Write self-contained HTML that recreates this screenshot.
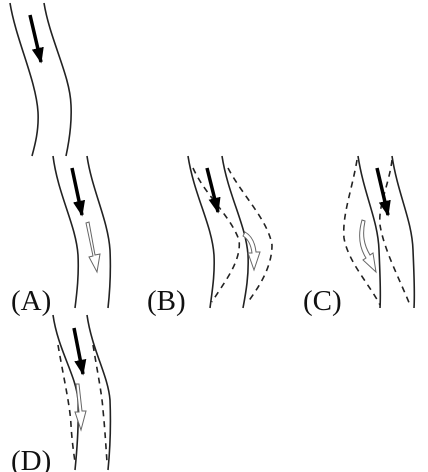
<!DOCTYPE html>
<html><head><meta charset="utf-8"><style>
html,body{margin:0;padding:0;background:#fff;width:428px;height:472px;overflow:hidden}
svg text{font-family:"Liberation Serif",serif;font-size:29px;fill:#111}
</style></head><body>
<svg width="428" height="472" viewBox="0 0 428 472">
<defs>
<marker id="bh" viewBox="0 0 10 10" refX="9" refY="5" markerWidth="4.5" markerHeight="3.5" orient="auto" preserveAspectRatio="none"><path d="M0,0 L10,5 L0,10Z" fill="#000"/></marker>
</defs>
<g fill="none" stroke="#222" stroke-width="1.6">
<g>
<path d="M10,3 C16,40 36,80 38,112 C39,130 35,145 32,156"/>
<path d="M44,3 C50,40 70,75 71,105 C72,125 69,142 66,156"/>
</g>
<g>
<path d="M53,156 C58,195 76,225 78,255 C79,275 77,292 75,308"/>
<path d="M87,156 C92,190 108,220 110,250 C111,272 110,290 108,308"/>
</g>
<g>
<path d="M188,156 C194,195 212,225 214,255 C215,275 212,292 210,308"/>
<path d="M222,156 C228,195 246,225 248,255 C249,275 246,292 243,308"/>
<g stroke-dasharray="6,5">
<path d="M193,168 C205,195 230,215 239,240 C242,262 222,285 212,302"/>
<path d="M228,168 C242,195 268,220 272,245 C272,268 258,288 248,302"/>
</g>
</g>
<g>
<path d="M358,156 C364,195 378,220 379,250 C380,275 381,292 380,308"/>
<path d="M392,156 C398,195 412,220 413,250 C414,275 415,292 414,308"/>
<g stroke-dasharray="6,5">
<path d="M357,160 C352,190 342,215 344,238 C348,262 370,285 380,305"/>
<path d="M392,160 C389,185 378,205 380,225 C384,250 400,280 410,305"/>
</g>
</g>
<g>
<path d="M53,315 C58,350 76,375 78,400 C79,425 77,450 75,470"/>
<path d="M87,315 C92,350 108,375 110,400 C111,425 110,450 108,470"/>
<g stroke-dasharray="6,5">
<path d="M58,345 C64,380 70,405 71,425 C72,442 74,455 75,462"/>
<path d="M93,345 C98,375 102,395 103,410 C105,430 106,448 107,462"/>
</g>
</g>
</g>
<g stroke="#000" stroke-width="3.5" marker-end="url(#bh)">
<line x1="30" y1="15" x2="41" y2="62"/>
<line x1="72" y1="168" x2="82" y2="215"/>
<line x1="207" y1="168" x2="218" y2="212"/>
<line x1="377" y1="168" x2="388" y2="215"/>
<line x1="74" y1="328" x2="83" y2="374"/>
</g>
<g fill="#fff" stroke="#666" stroke-width="1">
<path d="M86,223 L89,222 L95,255 L100,254 L97,272 L89,257 L93,256 Z"/>
<path d="M245,232 C252,236 255,243 256,252 L260,252 L254,270 L248,253 L252,253 C251,245 248,239 243,236 Z"/>
<path d="M362,220 L365,221 C362,235 364,245 370,255 L373,253 L376,272 L363,260 L366,258 C359,247 358,234 362,220 Z"/>
<path d="M76,384 L79,384 L82,411 L86,411 L81,430 L75,412 L79,412 Z"/>
</g>
<text x="11" y="310">(A)</text>
<text x="147" y="310">(B)</text>
<text x="303" y="310">(C)</text>
<text x="11" y="470">(D)</text>
</svg>
</body></html>
